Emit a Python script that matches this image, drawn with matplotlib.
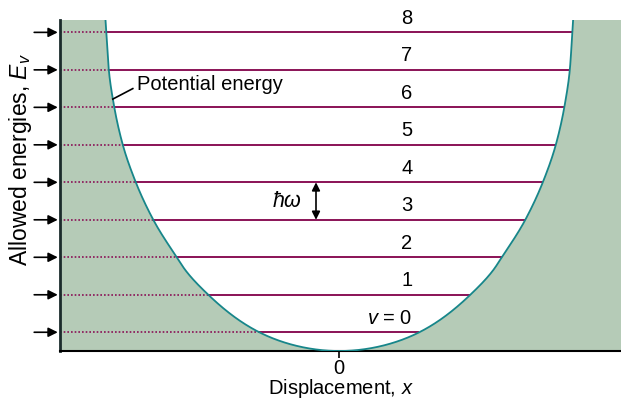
import numpy as np
import matplotlib
matplotlib.use("Agg")
import matplotlib.pyplot as plt

plt.rcParams["font.family"] = ["Liberation Sans", "DejaVu Sans"]
plt.rcParams["mathtext.fontset"] = "custom"
plt.rcParams["mathtext.it"] = "Liberation Sans:italic"
plt.rcParams["mathtext.rm"] = "Liberation Sans"

# energy levels v = 0..8, E = (v + 1/2) hbar*omega
levels = [0, 1, 2, 3, 4, 5, 6, 7, 8]
level_energy = [0.5, 1.5, 2.5, 3.5, 4.5, 5.5, 6.5, 7.5, 8.5]
level_labels = ["$v$ = 0", "1", "2", "3", "4", "5", "6", "7", "8"]

# potential energy curve (half width vs energy)
curve_E = [0.0, 0.5, 1.5, 2.16, 2.5, 3.5, 4.5, 5.5, 6.5, 7.5, 8.5, 8.83]
curve_halfwidth = [0.0, 0.80, 1.31, 1.54, 1.625, 1.86, 2.035, 2.165, 2.25, 2.305, 2.33, 2.338]

XMIN, XMAX = -2.793, 2.817
EMAX = 8.83
FS = 14.5

fill_col = "#b5cbb7"
curve_col = "#17868a"
line_col = "#8a1256"


def pchip(xk, yk, xs):
    # monotone cubic through the read points, only for a smooth drawing
    xk = np.asarray(xk, float)
    yk = np.asarray(yk, float)
    h = np.diff(xk)
    d = np.diff(yk) / h
    m = np.zeros_like(xk)
    for i in range(1, len(xk) - 1):
        if d[i - 1] * d[i] > 0:
            w1 = 2 * h[i] + h[i - 1]
            w2 = h[i] + 2 * h[i - 1]
            m[i] = (w1 + w2) / (w1 / d[i - 1] + w2 / d[i])
    m[0] = d[0]
    m[-1] = d[-1]
    idx = np.clip(np.searchsorted(xk, xs) - 1, 0, len(xk) - 2)
    t = (xs - xk[idx]) / h[idx]
    h00 = 2 * t**3 - 3 * t**2 + 1
    h10 = t**3 - 2 * t**2 + t
    h01 = -2 * t**3 + 3 * t**2
    h11 = t**3 - t**2
    return h00 * yk[idx] + h10 * h[idx] * m[idx] + h01 * yk[idx + 1] + h11 * h[idx] * m[idx + 1]


fig = plt.figure(figsize=(6.21, 4.0), dpi=100)
ax = fig.add_axes([60/621, 49/400, 561/621, 331/400])

E = np.array(curve_E)
hw = np.array(curve_halfwidth)

# smooth drawing of the curve: x against sqrt(E), right half, then mirrored
s_k = np.sqrt(E)
s = np.linspace(0, s_k[-1], 800)
xs = pchip(s_k, hw, s)
es = s**2

left_x = -xs[::-1]
left_y = es[::-1]
poly_x = np.concatenate([[XMIN], left_x, xs[1:], [XMAX, XMAX, XMIN]])
poly_y = np.concatenate([[EMAX], left_y, es[1:], [EMAX, 0, 0]])
ax.fill(poly_x, poly_y, color=fill_col, lw=0, zorder=1)
ax.plot(left_x, left_y, color=curve_col, lw=1.3, zorder=3)
ax.plot(xs, es, color=curve_col, lw=1.3, zorder=3)

# levels
for v, e, lab in zip(levels, level_energy, level_labels):
    w = np.interp(e, es, xs)
    ax.plot([-w, w], [e, e], color=line_col, lw=1.4, zorder=2, solid_capstyle="butt")
    ax.plot([XMIN, -w], [e, e], color=line_col, lw=1.2, ls=(0, (1, 1.2)), zorder=2)
    ax.text(0.73, e + 0.37, lab, ha="right", va="center", fontsize=FS)
    ax.annotate("", xy=(-0.004, e), xycoords=("axes fraction", "data"),
                xytext=(-0.046, e), textcoords=("axes fraction", "data"),
                arrowprops=dict(arrowstyle="-|>", color="black", lw=1.2,
                                mutation_scale=14, shrinkA=0, shrinkB=0),
                annotation_clip=False)

# hbar omega spacing
ax.annotate("", xy=(-0.233, 4.5), xytext=(-0.233, 3.5),
            arrowprops=dict(arrowstyle="<|-|>", color="black", lw=1.2,
                            mutation_scale=12, shrinkA=0, shrinkB=0), zorder=4)
ax.text(-0.37, 4.0, r"$\hbar\omega$", ha="right", va="center", fontsize=FS + 1)

# potential energy label
ax.text(-2.02, 7.12, "Potential energy", ha="left", va="center", fontsize=FS)
ax.plot([-2.065, -2.265], [7.0, 6.72], color="black", lw=1.2, zorder=4)

ax.set_xlim(XMIN, XMAX)
ax.set_ylim(0, EMAX)
ax.spines["top"].set_visible(False)
ax.spines["right"].set_visible(False)
ax.spines["left"].set_linewidth(2)
ax.spines["left"].set_color("#1b2b2b")
ax.spines["bottom"].set_linewidth(1.5)
ax.set_yticks([])
ax.set_xticks([0])
ax.set_xticklabels(["0"], fontsize=FS)
ax.tick_params(axis="x", direction="out", length=5, width=1.2, pad=1)
ax.set_xlabel("Displacement, $x$", fontsize=FS, labelpad=-1)
fig.text(20.5/621, 1 - 160/400, "Allowed energies, $E_v$", rotation=90,
         ha="center", va="center", fontsize=16.5)

fig.savefig("out.png", dpi=100)
